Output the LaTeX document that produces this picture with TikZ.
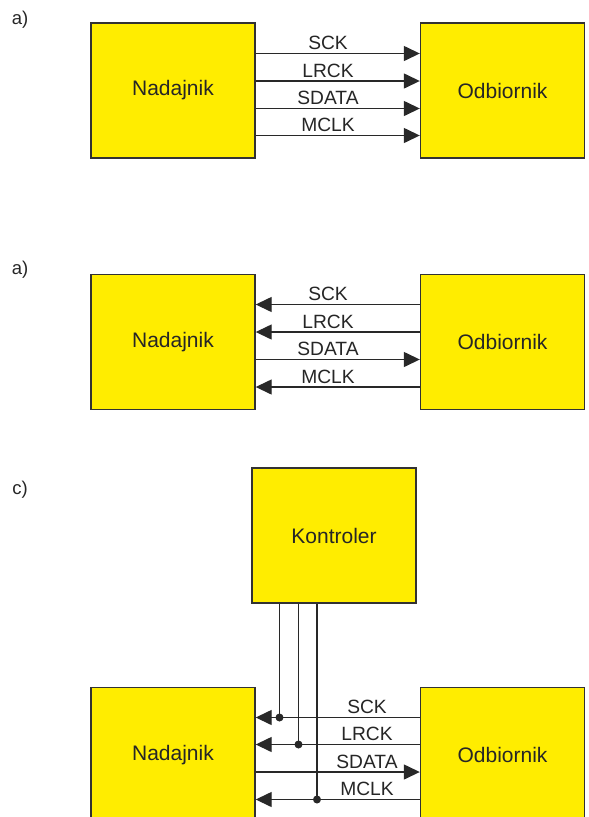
\documentclass[tikz,border=0pt]{standalone}
\usepackage{fontspec}
\setmainfont{Liberation Sans}
\usetikzlibrary{arrows.meta}
\definecolor{boxyellow}{RGB}{255,237,0}
\definecolor{boxedge}{RGB}{50,50,50}
\definecolor{wire}{RGB}{40,40,40}
\begin{document}
\begin{tikzpicture}[x=1pt,y=-1pt,
  blk/.style={draw=boxedge,line width=1.4pt,fill=boxyellow,minimum width=164pt,minimum height=135pt,inner sep=0pt,font=\fontsize{21}{24}\selectfont,text=black!85},
  sig/.style={line width=1.4pt,draw=wire},
  arr/.style={sig,-{Triangle[length=16pt,width=15pt]}},
  lbl/.style={anchor=base,inner sep=0pt,font=\fontsize{19.2}{22}\selectfont,text=black!85},
  part/.style={inner sep=0pt,font=\fontsize{18.5}{22}\selectfont,text=black!85},
  jdot/.style={circle,fill=wire,inner sep=0pt,minimum size=8pt}]
\clip (0,0) rectangle (589,817);
\fill[white] (0,0) rectangle (589,817);
% ---------- part a (first)
\node[part] (la) at (20,20) {a)};
\node[blk] (nadA) at (173,90.5) {Nadajnik};
\node[blk] (odbA) at (502.5,90.5) {Odbiornik};
\foreach \y/\t in {53.5/SCK,81/LRCK,108.5/SDATA,135.5/MCLK}{
  \draw[arr] (nadA.east |- 0,\y) -- (odbA.west |- 0,\y);
  \node[lbl] at (328,\y-4) {\t};
}
% ---------- part b (second, labelled a)
\node[part] (lb) at (20,270) {a)};
\node[blk] (nadB) at (173,342) {Nadajnik};
\node[blk] (odbB) at (502.5,342) {Odbiornik};
\foreach \y/\t in {304.5/SCK,332/LRCK,387/MCLK}{
  \draw[arr] (odbB.west |- 0,\y) -- (nadB.east |- 0,\y);
  \node[lbl] at (328,\y-4) {\t};
}
\draw[arr] (nadB.east |- 0,359.5) -- (odbB.west |- 0,359.5);
\node[lbl] at (328,355.5) {SDATA};
% ---------- part c
\node[part] (lc) at (20,490) {c)};
\node[blk] (kon) at (334,535.5) {Kontroler};
\node[blk] (nadC) at (173,755) {Nadajnik};
\node[blk] (odbC) at (502.5,755) {Odbiornik};
\draw[arr] (odbC.west |- 0,717.5) -- (nadC.east |- 0,717.5);
\draw[arr] (odbC.west |- 0,744.5) -- (nadC.east |- 0,744.5);
\draw[arr] (nadC.east |- 0,772) -- (odbC.west |- 0,772);
\draw[arr] (odbC.west |- 0,799.5) -- (nadC.east |- 0,799.5);
\node[lbl] at (367,713.5) {SCK};
\node[lbl] at (367,740.5) {LRCK};
\node[lbl] at (367,768) {SDATA};
\node[lbl] at (367,795.5) {MCLK};
\node[jdot] (d1) at (279.5,717.5) {};
\node[jdot] (d2) at (298.5,744.5) {};
\node[jdot] (d3) at (317,799.5) {};
\draw[sig] (kon.south -| d1) -- (d1.center);
\draw[sig] (kon.south -| d2) -- (d2.center);
\draw[sig] (kon.south -| d3) -- (d3.center);
\end{tikzpicture}
\end{document}
